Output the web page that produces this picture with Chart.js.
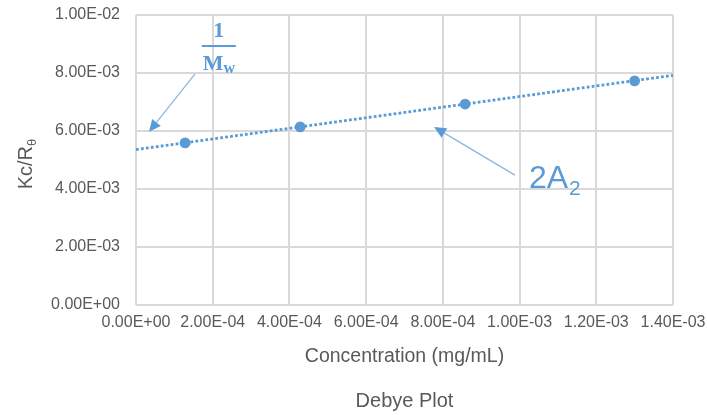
<!DOCTYPE html>
<html><head><meta charset="utf-8">
<script src="https://cdn.jsdelivr.net/npm/chart.js@4.4.1/dist/chart.umd.min.js"></script>
<style>html,body{margin:0;padding:0;background:#fff}#wrap{width:707px;height:415px;position:relative}</style>
</head><body><div id="wrap"><canvas id="c" width="707" height="415"></canvas></div>
<script>
// ---- data ----
const concentration = [1.28e-4, 4.28e-4, 8.58e-4, 1.30e-3];
const kcOverR = [5.59e-3, 6.14e-3, 6.93e-3, 7.73e-3];
const trendX = [0, 1.4e-3];
const trendY = [5.36e-3, 7.92e-3];
const xTickValues = [0, 2e-4, 4e-4, 6e-4, 8e-4, 1e-3, 1.2e-3, 1.4e-3];
const xTickLabels = ['0.00E+00','2.00E-04','4.00E-04','6.00E-04','8.00E-04','1.00E-03','1.20E-03','1.40E-03'];
const yTickValues = [0, 2e-3, 4e-3, 6e-3, 8e-3, 1e-2];
const yTickLabels = ['0.00E+00','2.00E-03','4.00E-03','6.00E-03','8.00E-03','1.00E-02'];
const xTitle = 'Concentration (mg/mL)';
const yTitleMain = 'Kc/R';
const yTitleSub = 'θ';
const chartTitle = 'Debye Plot';

const BLUE = '#5b9bd5';
const GRAY_TXT = '#595959';
const GRID = '#d9d9d9';
const FAM = 'Liberation Sans, Arial, sans-serif';
const TICK_FONT = {family: FAM, size: 16};

// annotation placement (data coordinates)
const annot = {
  arrow1: {from: [1.54e-4, 7.97e-3], to: [3.4e-5, 5.97e-3]},
  arrow2: {from: [9.88e-4, 4.48e-3], to: [7.77e-4, 6.14e-3]},
  frac: [2.16e-4, 8.93e-3]
};

const annotationPlugin = {
  id: 'annots',
  afterDraw(chart) {
    const {ctx, scales: {x, y}} = chart;
    const px = v => x.getPixelForValue(v), py = v => y.getPixelForValue(v);
    function arrow(a, b) {
      const ax = px(a[0]), ay = py(a[1]), bx = px(b[0]), by = py(b[1]);
      const ang = Math.atan2(by - ay, bx - ax);
      const L = 12, W = 5.5;
      const hx = bx - L * Math.cos(ang), hy = by - L * Math.sin(ang);
      ctx.save();
      ctx.strokeStyle = '#8db6e2'; ctx.lineWidth = 1.3;
      ctx.beginPath(); ctx.moveTo(ax, ay); ctx.lineTo(hx, hy); ctx.stroke();
      ctx.fillStyle = BLUE;
      ctx.beginPath(); ctx.moveTo(bx, by);
      ctx.lineTo(hx + W * Math.sin(ang), hy - W * Math.cos(ang));
      ctx.lineTo(hx - W * Math.sin(ang), hy + W * Math.cos(ang));
      ctx.closePath(); ctx.fill();
      ctx.restore();
      return [ax, ay];
    }
    arrow(annot.arrow1.from, annot.arrow1.to);
    const s2 = arrow(annot.arrow2.from, annot.arrow2.to);

    ctx.save();
    ctx.fillStyle = BLUE;
    ctx.textBaseline = 'alphabetic';
    // 2A2
    ctx.textAlign = 'left';
    ctx.font = '32px ' + FAM;
    ctx.fillText('2A', s2[0] + 14, s2[1] + 13);
    const w2a = ctx.measureText('2A').width;
    ctx.font = '21px ' + FAM;
    ctx.fillText('2', s2[0] + 14 + w2a + 1, s2[1] + 20);
    // fraction 1/Mw
    const cx = px(annot.frac[0]), cy = py(annot.frac[1]);
    ctx.font = 'bold 22px Liberation Serif, serif';
    ctx.textAlign = 'center';
    ctx.fillText('1', cx, cy - 9);
    ctx.fillRect(cx - 17, cy - 1, 34, 2);
    ctx.textAlign = 'left';
    ctx.fillText('M', cx - 16, cy + 24);
    const wm = ctx.measureText('M').width;
    ctx.font = 'bold 16px Liberation Serif, serif';
    ctx.fillText('w', cx - 16 + wm, cy + 27);
    ctx.restore();

    // y axis title with subscript
    ctx.save();
    ctx.fillStyle = GRAY_TXT;
    ctx.translate(32, 164);
    ctx.rotate(-Math.PI / 2);
    ctx.textAlign = 'left';
    ctx.textBaseline = 'alphabetic';
    ctx.font = '20px ' + FAM;
    const wMain = ctx.measureText(yTitleMain).width;
    ctx.font = '13px ' + FAM;
    const wSub = ctx.measureText(yTitleSub).width;
    const start = -(wMain + wSub) / 2;
    ctx.font = '20px ' + FAM;
    ctx.fillText(yTitleMain, start, 0);
    ctx.font = '13px ' + FAM;
    ctx.fillText(yTitleSub, start + wMain, 4);
    ctx.restore();
  }
};

new Chart(document.getElementById('c'), {
  type: 'scatter',
  data: {
    datasets: [
      {
        label: 'Trendline',
        data: trendX.map((v, i) => ({x: v, y: trendY[i]})),
        showLine: true,
        borderColor: BLUE,
        borderWidth: 2.8,
        borderDash: [2.8, 2.2],
        pointRadius: 0,
        order: 2
      },
      {
        label: 'Kc/Rθ',
        data: concentration.map((v, i) => ({x: v, y: kcOverR[i]})),
        backgroundColor: BLUE,
        borderColor: BLUE,
        pointRadius: 5.4,
        pointBorderWidth: 0,
        order: 1
      }
    ]
  },
  options: {
    responsive: false,
    devicePixelRatio: 1,
    animation: false,
    layout: {padding: {left: 0, right: 34, top: 15, bottom: 0}},
    plugins: {
      legend: {display: false},
      tooltip: {enabled: false},
      title: {
        display: true,
        position: 'bottom',
        fullSize: false,
        text: chartTitle,
        color: GRAY_TXT,
        font: {family: FAM, size: 20, weight: 'normal'},
        padding: {top: 10, bottom: 2}
      }
    },
    scales: {
      x: {
        type: 'linear',
        min: 0, max: 1.4e-3,
        afterBuildTicks: s => { s.ticks = xTickValues.map(v => ({value: v})); },
        afterFit: s => { s.height = 74; s.paddingLeft = 0; s.paddingRight = 0; },
        ticks: {
          callback: (v, i) => xTickLabels[i],
          color: GRAY_TXT, font: TICK_FONT, padding: 8, maxRotation: 0, autoSkip: false
        },
        grid: {color: GRID, lineWidth: 2, drawTicks: false},
        border: {display: false},
        title: {
          display: true, text: xTitle, color: GRAY_TXT,
          font: {family: FAM, size: 19.5},
          padding: {top: 0, bottom: 10.3}
        }
      },
      y: {
        type: 'linear',
        min: 0, max: 1e-2,
        afterBuildTicks: s => { s.ticks = yTickValues.map(v => ({value: v})); },
        afterFit: s => { s.width = 136; s.paddingTop = 0; s.paddingBottom = 0; },
        ticks: {
          callback: (v, i) => yTickLabels[i],
          color: GRAY_TXT, font: TICK_FONT, padding: 16, autoSkip: false
        },
        grid: {color: GRID, lineWidth: 2, drawTicks: false},
        border: {display: false}
      }
    }
  },
  plugins: [annotationPlugin]
});
</script>
</body></html>
